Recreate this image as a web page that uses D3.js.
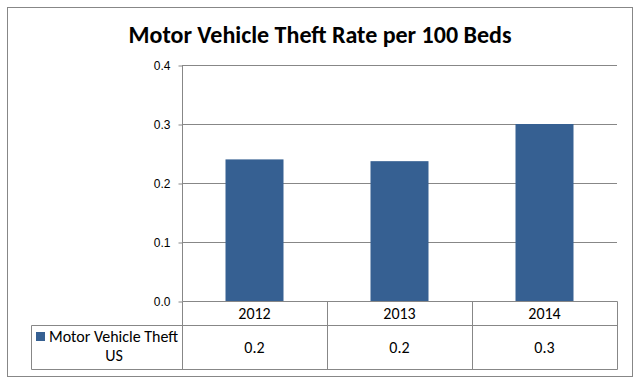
<!DOCTYPE html>
<html>
<head>
<meta charset="utf-8">
<script src="https://cdn.jsdelivr.net/npm/d3@7"></script>
<style>
    body { margin: 0; background: #fff; }
    svg { display: block; }
</style>
</head>
<body>
<script>
// chart data
const years = ['2012', '2013', '2014'];
const theftRates = [0.24, 0.237, 0.30];
const tableLabels = ['0.2', '0.2', '0.3'];
const yTicks = [0.0, 0.1, 0.2, 0.3, 0.4];
const seriesName = ['Motor Vehicle Theft', 'US'];
const chartTitle = 'Motor Vehicle Theft Rate per 100 Beds';

const width = 643;
const height = 387;
const lineColor = '#878787';
const barColor = '#366092';
const labelFont = 'Carlito, Calibri, Lato, sans-serif';

const plot = { left: 182, right: 617, top: 65, bottom: 301 };
const tableLeft = 31;
const catRowBottom = 325;
const tableBottom = 369;

const svg = d3.select('body').append('svg')
    .attr('width', width)
    .attr('height', height);

// outer chart border
svg.append('rect')
    .attr('x', 7.5)
    .attr('y', 7.5)
    .attr('width', 625)
    .attr('height', 369)
    .attr('fill', '#fff')
    .attr('stroke', lineColor)
    .attr('stroke-width', 1);

svg.append('text')
    .attr('x', 320)
    .attr('y', 43)
    .attr('text-anchor', 'middle')
    .attr('font-family', labelFont)
    .attr('font-weight', 'bold')
    .attr('font-size', 24)
    .attr('fill', '#000')
    .text(chartTitle);

const x = d3.scaleBand()
    .domain(years)
    .range([plot.left, plot.right])
    .paddingInner(0.6)
    .paddingOuter(0.3);

const xCells = d3.scaleBand()
    .domain(years)
    .range([plot.left, plot.right]);

const y = d3.scaleLinear()
    .domain([0, 0.4])
    .range([plot.bottom, plot.top]);

// gridlines
svg.append('g')
    .selectAll('line')
    .data(yTicks.filter((d) => d > 0))
    .join('line')
    .attr('x1', plot.left)
    .attr('x2', plot.right)
    .attr('y1', (d) => Math.round(y(d)) + 0.5)
    .attr('y2', (d) => Math.round(y(d)) + 0.5)
    .attr('stroke', lineColor);

// bars
svg.append('g')
    .selectAll('rect')
    .data(theftRates)
    .join('rect')
    .attr('x', (d, i) => x(years[i]))
    .attr('y', (d) => y(d))
    .attr('width', x.bandwidth())
    .attr('height', (d) => y(0) - y(d))
    .attr('fill', barColor);

// y axis
const yAxis = svg.append('g')
    .attr('transform', `translate(${plot.left + 0.5},0.5)`)
    .call(d3.axisLeft(y)
        .tickValues(yTicks)
        .tickSize(4)
        .tickPadding(8)
        .tickFormat(d3.format('.1f')));

yAxis.select('.domain').attr('stroke', lineColor).attr('d', `M0,${plot.top}V${plot.bottom}`);
yAxis.selectAll('.tick line').attr('stroke', lineColor);
yAxis.selectAll('.tick text')
    .attr('font-family', 'Arial, "Liberation Sans", sans-serif')
    .attr('font-size', 12)
    .attr('fill', '#000');

// data table
const table = svg.append('g')
    .attr('fill', 'none')
    .attr('stroke', lineColor);

table.append('path')
    .attr('d', [
        `M${plot.left + 0.5},${plot.bottom + 0.5}H${plot.right + 0.5}V${tableBottom + 0.5}H${tableLeft + 0.5}V${catRowBottom + 0.5}H${plot.right + 0.5}`,
        `M${plot.left + 0.5},${plot.bottom + 0.5}V${tableBottom + 0.5}`,
    ].join(''));

table.selectAll('line.divider')
    .data(years.slice(1))
    .join('line')
    .attr('class', 'divider')
    .attr('x1', (d) => Math.round(xCells(d)) + 0.5)
    .attr('x2', (d) => Math.round(xCells(d)) + 0.5)
    .attr('y1', plot.bottom)
    .attr('y2', tableBottom);

svg.append('g')
    .selectAll('text')
    .data(years)
    .join('text')
    .attr('x', (d) => xCells(d) + xCells.bandwidth() / 2)
    .attr('y', 319)
    .attr('text-anchor', 'middle')
    .attr('font-family', labelFont)
    .attr('font-size', 16)
    .attr('fill', '#000')
    .text((d) => d);

svg.append('g')
    .selectAll('text')
    .data(tableLabels)
    .join('text')
    .attr('x', (d, i) => xCells(years[i]) + xCells.bandwidth() / 2)
    .attr('y', 353)
    .attr('text-anchor', 'middle')
    .attr('font-family', labelFont)
    .attr('font-size', 16)
    .attr('fill', '#000')
    .text((d) => d);

// legend key in the table
svg.append('rect')
    .attr('x', 36)
    .attr('y', 332)
    .attr('width', 9)
    .attr('height', 9)
    .attr('fill', barColor);

svg.append('text')
    .attr('x', 49)
    .attr('y', 342)
    .attr('font-family', labelFont)
    .attr('font-size', 16)
    .attr('fill', '#000')
    .text(seriesName[0]);

svg.append('text')
    .attr('x', 114)
    .attr('y', 361)
    .attr('text-anchor', 'middle')
    .attr('font-family', labelFont)
    .attr('font-size', 16)
    .attr('fill', '#000')
    .text(seriesName[1]);
</script>
</body>
</html>
